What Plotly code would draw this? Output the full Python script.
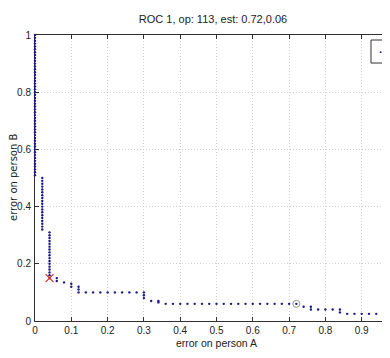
import plotly.graph_objects as go

# ROC curve points (error on person A, error on person B)
roc_x = ([0.0] * 50 + [0.02] * 19 + [0.04] * 17 +
         [0.06, 0.06, 0.08, 0.10, 0.10, 0.12, 0.12, 0.12,
          0.14, 0.16, 0.18, 0.20, 0.22, 0.24, 0.26, 0.28,
          0.30, 0.30, 0.30, 0.32, 0.34, 0.34,
          0.36, 0.38, 0.40, 0.42, 0.44, 0.46, 0.48, 0.50, 0.52, 0.54,
          0.56, 0.58, 0.60, 0.62, 0.64, 0.66, 0.68, 0.70, 0.72,
          0.74, 0.76, 0.76, 0.78, 0.80, 0.82, 0.84, 0.84,
          0.86, 0.88, 0.90, 0.92, 0.94, 0.96, 0.98])
roc_y = ([1.00, 0.99, 0.98, 0.97, 0.96, 0.95, 0.94, 0.93, 0.92, 0.91,
          0.90, 0.89, 0.88, 0.87, 0.86, 0.85, 0.84, 0.83, 0.82, 0.81,
          0.80, 0.79, 0.78, 0.77, 0.76, 0.75, 0.74, 0.73, 0.72, 0.71,
          0.70, 0.69, 0.68, 0.67, 0.66, 0.65, 0.64, 0.63, 0.62, 0.61,
          0.60, 0.59, 0.58, 0.57, 0.56, 0.55, 0.54, 0.53, 0.52, 0.51] +
         [0.50, 0.49, 0.48, 0.47, 0.46, 0.45, 0.44, 0.43, 0.42, 0.41,
          0.40, 0.39, 0.38, 0.37, 0.36, 0.35, 0.34, 0.33, 0.32] +
         [0.31, 0.30, 0.29, 0.28, 0.27, 0.26, 0.25, 0.24, 0.23, 0.22,
          0.21, 0.20, 0.19, 0.18, 0.17, 0.16, 0.15] +
         [0.15, 0.14, 0.135, 0.13, 0.12, 0.12, 0.11, 0.10,
          0.10, 0.10, 0.10, 0.10, 0.10, 0.10, 0.10, 0.10,
          0.10, 0.09, 0.08, 0.07, 0.07, 0.065,
          0.06, 0.06, 0.06, 0.06, 0.06, 0.06, 0.06, 0.06, 0.06, 0.06,
          0.06, 0.06, 0.06, 0.06, 0.06, 0.06, 0.06, 0.06, 0.06,
          0.05, 0.05, 0.04, 0.04, 0.04, 0.04, 0.04, 0.03,
          0.025, 0.025, 0.025, 0.025, 0.025, 0.025, 0.025])

# Marked points
op_x = [0.04]
op_y = [0.15]
est_x = [0.72]
est_y = [0.06]

x_ticks = [0, 0.1, 0.2, 0.3, 0.4, 0.5, 0.6, 0.7, 0.8, 0.9, 1]
x_ticklabels = ["0", "0.1", "0.2", "0.3", "0.4", "0.5", "0.6", "0.7", "0.8", "0.9", "1"]
y_ticks = [0, 0.2, 0.4, 0.6, 0.8, 1]
y_ticklabels = ["0", "0.2", "0.4", "0.6", "0.8", "1"]

title_text = "ROC 1, op: 113, est: 0.72,0.06"
x_title = "error on person A"
y_title = "error on person B"

FONT = "Liberation Sans Narrow, Liberation Sans, Arial, sans-serif"
DOT = "#1a1a88"

fig = go.Figure()
fig.add_trace(go.Scatter(
    x=roc_x, y=roc_y, mode="markers", name=" ",
    marker=dict(color=DOT, size=2.4),
    cliponaxis=False, showlegend=False))
fig.add_trace(go.Scatter(
    x=op_x, y=op_y, mode="markers", showlegend=False,
    marker=dict(symbol="x-thin-open", color="#e03030", size=8,
                line=dict(color="#e03030", width=1.3)),
    cliponaxis=False))
fig.add_trace(go.Scatter(
    x=est_x, y=est_y, mode="markers", showlegend=False,
    marker=dict(symbol="circle-open", color="#909090", size=7,
                line=dict(color="#909090", width=1)),
    cliponaxis=False))

axis_common = dict(
    showline=True, linecolor="#303030", linewidth=1, mirror="ticks",
    ticks="inside", ticklen=4, tickcolor="#303030",
    showgrid=True, gridcolor="#d2d2d2", griddash="1px,2px", gridwidth=1,
    zeroline=False, tickfont=dict(family=FONT, size=10, color="#222"),
    layer="below traces",
)

# Legend box (cut off by the right edge, as in the reference)
fig.add_shape(type="rect", xref="paper", yref="paper",
              x0=0.9256, x1=1.1, y0=0.902, y1=0.9825,
              line=dict(color="#333", width=1), fillcolor="white", layer="above")
fig.add_annotation(xref="paper", yref="paper", x=0.953, y=0.9406,
                   text="•", showarrow=False,
                   font=dict(size=8, color=DOT), xanchor="center", yanchor="middle")

# Y axis title placed left of the tick labels
fig.add_annotation(xref="paper", yref="paper", x=-0.0606, y=0.5,
                   text=y_title, textangle=-90, showarrow=False,
                   xanchor="center", yanchor="middle",
                   font=dict(family="DejaVu Sans, sans-serif", size=10, color="#222"))

fig.update_layout(
    width=390, height=358,
    margin=dict(l=27, r=0, t=27, b=45, autoexpand=False),
    paper_bgcolor="white", plot_bgcolor="white",
    title=dict(text=title_text, x=205 / 390, xanchor="center",
               y=1 - 11 / 358, yanchor="middle",
               font=dict(family=FONT, size=11, color="#222")),
    xaxis=dict(range=[0, 1], tickvals=x_ticks, ticktext=x_ticklabels,
               title=dict(text=x_title, standoff=4,
                          font=dict(family=FONT, size=10.5, color="#222")),
               **axis_common),
    yaxis=dict(range=[0, 1], tickvals=y_ticks, ticktext=y_ticklabels,
               ticklabelstandoff=1, **axis_common),
    showlegend=False,
)

fig.write_html("out.html")
